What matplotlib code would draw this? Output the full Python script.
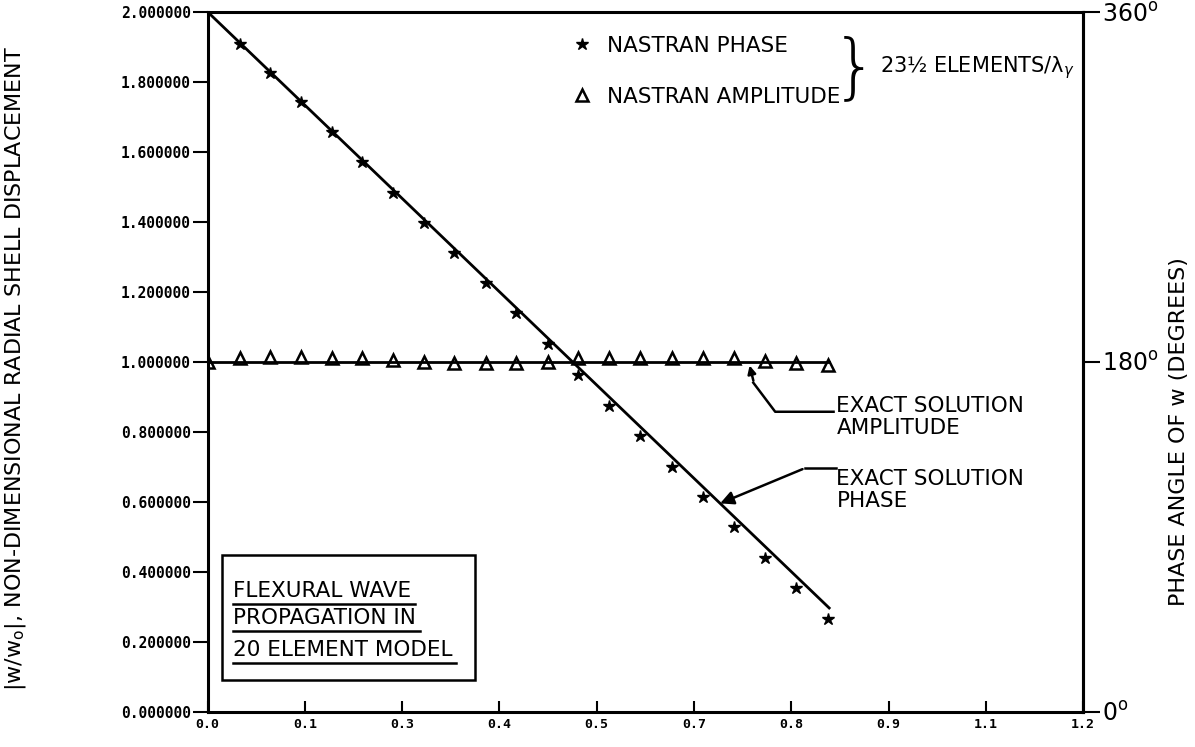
import matplotlib
matplotlib.use("Agg")
import matplotlib.pyplot as plt
from matplotlib.lines import Line2D

# ---- datos ----
x_nodes = [0.044, 0.086, 0.128, 0.170, 0.212, 0.254, 0.296, 0.338, 0.381, 0.423,
           0.466, 0.508, 0.550, 0.593, 0.636, 0.679, 0.722, 0.764, 0.807, 0.850]
phase_nastran = [1.908, 1.825, 1.743, 1.657, 1.571, 1.483, 1.398, 1.312, 1.225, 1.138,
                 1.050, 0.963, 0.874, 0.787, 0.700, 0.613, 0.527, 0.440, 0.352, 0.265]
amp_x = [0.0] + x_nodes
amp_nastran = [1.000, 1.012, 1.013, 1.013, 1.012, 1.010, 1.006, 0.998, 0.997, 0.997,
               0.997, 0.998, 1.010, 1.012, 1.012, 1.012, 1.011, 1.010, 1.002, 0.995, 0.990]
exact_x = [0.0, 0.852]
exact_phase = [2.0, 0.296]
exact_amp = [1.0, 1.0]

xtick_labels = ["0.0", "0.1", "0.3", "0.4", "0.5", "0.7", "0.8", "0.9", "1.1", "1.2"]
ytick_labels = ["0.000000", "0.200000", "0.400000", "0.600000", "0.800000", "1.000000",
                "1.200000", "1.400000", "1.600000", "1.800000", "2.000000"]
phase_ticks = [0, 180, 360]
phase_labels = ["0$^{\\rm o}$", "180$^{\\rm o}$", "360$^{\\rm o}$"]

TXT = dict(family="DejaVu Sans", fontsize=15.5)
TICK = dict(family="DejaVu Sans Mono", fontweight="bold")


def main() -> None:
    fig = plt.figure(figsize=(11.95, 7.47), dpi=100)
    ax = fig.add_axes([0.1738, 0.0475, 0.7325, 0.9365])

    ax.plot(exact_x, exact_phase, color="black", lw=2.0, zorder=2)
    ax.plot(exact_x, exact_amp, color="black", lw=2.0, zorder=2)
    ax.plot(x_nodes, phase_nastran, ls="none", marker="*", ms=9, color="black",
            label="NASTRAN PHASE", zorder=3)
    ax.plot(amp_x, amp_nastran, ls="none", marker="^", ms=8, mfc="none", mec="black",
            mew=1.8, label="NASTRAN AMPLITUDE", zorder=3)

    ax.set_xlim(0, 1.2)
    ax.set_ylim(0, 2.0)
    ax.set_xticks([i * 1.2 / 9 for i in range(10)])
    ax.set_xticklabels(xtick_labels, fontsize=9.5, **TICK)
    ax.set_yticks([i * 0.2 for i in range(11)])
    ax.set_yticklabels(ytick_labels, fontsize=10.5, **TICK)
    ax.tick_params(axis="x", direction="in", length=8, width=1.5, pad=5)
    ax.tick_params(axis="y", direction="out", length=11, width=1.5, pad=1)
    for s in ax.spines.values():
        s.set_linewidth(2.2)

    ax.set_ylabel("|w/w$_{\\rm o}$|, NON-DIMENSIONAL RADIAL SHELL DISPLACEMENT",
                  family="DejaVu Sans", fontsize=16)
    ax.yaxis.set_label_coords(-0.205, 0.49)

    ax2 = ax.twinx()
    ax2.set_ylim(0, 360)
    ax2.set_yticks(phase_ticks)
    ax2.set_yticklabels(phase_labels, family="DejaVu Sans", fontsize=17)
    ax2.tick_params(axis="y", direction="out", length=12, width=1.5, pad=2)
    ax2.spines["right"].set_linewidth(2.2)
    ax2.set_ylabel("PHASE ANGLE OF w (DEGREES)", family="DejaVu Sans", fontsize=16)
    ax2.yaxis.set_label_coords(1.098, 0.40)

    # leyenda de NASTRAN con llave
    ax.legend(loc="center left", bbox_to_anchor=(0.405, 0.915), frameon=False,
              prop=dict(family="DejaVu Sans", size=15.5), handlelength=1.0,
              handletextpad=0.7, labelspacing=1.45, borderaxespad=0)
    ax.text(0.918, 1.835, "}", fontsize=52, family="DejaVu Sans", va="center",
            ha="right", fontweight="light")
    ax.text(0.922, 1.84, "23½ ELEMENTS/λ$_\\gamma$", va="center", ha="left",
            family="DejaVu Sans", fontsize=15)

    # anotaciones de solución exacta
    ax.text(0.862, 0.842, "EXACT SOLUTION\nAMPLITUDE", va="center", ha="left",
            linespacing=1.15, **TXT)
    ax.text(0.862, 0.634, "EXACT SOLUTION\nPHASE", va="center", ha="left",
            linespacing=1.15, **TXT)
    ax.add_line(Line2D([0.858, 0.778, 0.748], [0.857, 0.857, 0.94], color="black", lw=1.8))
    ax.annotate("", xy=(0.742, 0.997), xytext=(0.749, 0.938),
                arrowprops=dict(arrowstyle="-|>", color="black", lw=1.8, mutation_scale=12))
    ax.add_line(Line2D([0.862, 0.819], [0.696, 0.696], color="black", lw=1.8))
    ax.annotate("", xy=(0.699, 0.592), xytext=(0.819, 0.696),
                arrowprops=dict(arrowstyle="-|>", color="black", lw=1.8, mutation_scale=20))

    # recuadro del título
    ax.add_patch(plt.Rectangle((0.02, 0.089), 0.346, 0.358, fill=False, lw=1.8,
                               edgecolor="black"))
    lines = ["FLEXURAL WAVE", "PROPAGATION IN", "20 ELEMENT MODEL"]
    ys = [0.327, 0.250, 0.158]
    fig.canvas.draw()
    r = fig.canvas.get_renderer()
    inv = ax.transData.inverted()
    for s, y in zip(lines, ys):
        t = ax.text(0.035, y, s, va="baseline", ha="left", **TXT)
        bb = t.get_window_extent(r)
        (x0, _), (x1, _) = inv.transform([(bb.x0, 0), (bb.x1, 0)])
        ax.add_line(Line2D([x0, x1 + 0.005], [y - 0.02, y - 0.02], color="black", lw=1.8))

    fig.savefig("out.png", dpi=100)


if __name__ == "__main__":
    main()
